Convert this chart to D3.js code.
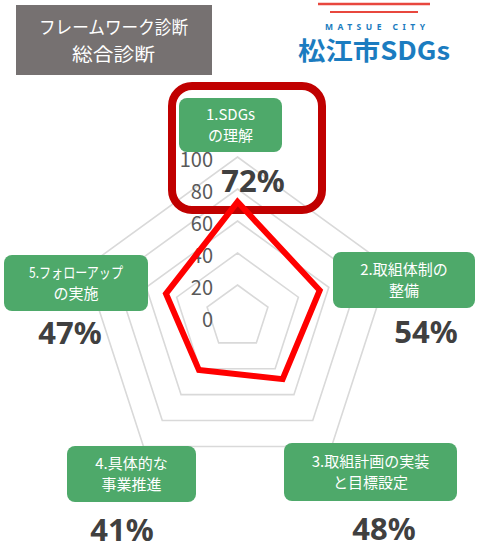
<!DOCTYPE html>
<html><head><meta charset="utf-8">
<script src="https://cdn.jsdelivr.net/npm/d3@7"></script>
<style>body{margin:0;background:#fff}svg{display:block}</style>
</head><body>
<script>
const categories = [["1.SDGs","の理解"],["2.取組体制の","整備"],["3.取組計画の実装","と目標設定"],["4.具体的な","事業推進"],["5.フォローアップ","の実施"]];
const values = [72, 54, 48, 41, 47];
const ticks = [0, 20, 40, 60, 80, 100];
const gridLevels = [20, 40, 60, 80, 100];
const titleLines = ["フレームワーク診断", "総合診断"];

// layout (label boxes and percentage positions)
const boxes = [
  {x:179, y:98, w:103, h:54, px:253, py:192, tl:[null,null]},
  {x:333, y:252, w:142, h:56, px:426, py:343, tl:[null,null]},
  {x:284, y:443, w:173, h:58, px:384, py:540, tl:[null,null]},
  {x:67, y:446, w:129, h:56, px:122, py:541, tl:[null,null]},
  {x:4, y:255, w:144, h:56, px:70, py:344, tl:[94,null]}
];

const W = 481, H = 554, cx = 237.5, cy = 317;
const svg = d3.select("body").append("svg").attr("width", W).attr("height", H);
const JP = "'Noto Sans CJK JP','Noto Sans',sans-serif";

const r = d3.scaleLinear().domain([0, 100]).range([0, 160]);
const ang = d3.scaleLinear().domain([0, categories.length]).range([0, 2 * Math.PI]);
const pt = (v, i) => [cx + r(v) * Math.sin(ang(i)), cy - r(v) * Math.cos(ang(i))];
const line = d3.line().curve(d3.curveLinearClosed);

// grid
svg.append("g").selectAll("path").data(gridLevels).join("path")
  .attr("d", lv => line(categories.map((c, i) => pt(lv, i))))
  .attr("fill", "none").attr("stroke", "#d9d9d9").attr("stroke-width", 1.6);

// tick labels
svg.append("g").selectAll("text").data(ticks).join("text")
  .attr("x", 213).attr("y", t => cy - r(t) + 10)
  .attr("text-anchor", "end").attr("font-family", JP).attr("font-size", 20)
  .attr("fill", "#595959").text(t => t);

// title box
svg.append("rect").attr("x", 16).attr("y", 5).attr("width", 196).attr("height", 70).attr("fill", "#767171");
svg.append("text").attr("x", 39).attr("y", 34).attr("font-family", JP).attr("font-size", 18).attr("fill", "#fff")
  .attr("textLength", 149).attr("lengthAdjust", "spacingAndGlyphs").text(titleLines[0]);
svg.append("text").attr("x", 72).attr("y", 60.5).attr("font-family", JP).attr("font-size", 18).attr("fill", "#fff")
  .attr("textLength", 83).attr("lengthAdjust", "spacingAndGlyphs").text(titleLines[1]);

// logo
svg.append("line").attr("x1", 318).attr("y1", 4).attr("x2", 430).attr("y2", 4).attr("stroke", "#e8473e").attr("stroke-width", 2.5);
svg.append("line").attr("x1", 330).attr("y1", 12).attr("x2", 418).attr("y2", 12).attr("stroke", "#e8473e").attr("stroke-width", 1.8);
svg.append("text").attr("x", 375).attr("y", 30).attr("text-anchor", "middle").attr("font-family", "'Noto Sans',sans-serif")
  .attr("font-weight", "bold").attr("font-size", 8.5).attr("fill", "#1b7cc0")
  .attr("textLength", 100).attr("lengthAdjust", "spacing").text("MATSUE CITY");
svg.append("text").attr("x", 298).attr("y", 60).attr("font-family", JP)
  .attr("font-weight", "bold").attr("font-size", 25).attr("fill", "#1b7cc0")
  .attr("textLength", 152).attr("lengthAdjust", "spacingAndGlyphs").text("松江市SDGs");

// highlight rect
svg.append("rect").attr("x", 172).attr("y", 86).attr("width", 150).attr("height", 124).attr("rx", 20)
  .attr("fill", "none").attr("stroke", "#c00000").attr("stroke-width", 8);

// data polygon
svg.append("path").attr("d", line(values.map((v, i) => pt(v, i))))
  .attr("fill", "none").attr("stroke", "#ff0000").attr("stroke-width", 6).attr("stroke-linejoin", "miter");

// category boxes
const g = svg.append("g").selectAll("g").data(categories).join("g");
g.append("rect").attr("x", (d, i) => boxes[i].x).attr("y", (d, i) => boxes[i].y)
  .attr("width", (d, i) => boxes[i].w).attr("height", (d, i) => boxes[i].h).attr("rx", 8).attr("fill", "#4ea96a");
g.each(function (d, i) {
  const b = boxes[i];
  const t = d3.select(this).append("text").attr("text-anchor", "middle").attr("font-family", JP)
    .attr("font-size", 15).attr("fill", "#fff");
  d.forEach((ln, k) => {
    const s = t.append("tspan").attr("x", b.x + b.w / 2).attr("y", b.y + b.h / 2 - 5 + k * 21).text(ln);
    if (b.tl[k]) s.attr("textLength", b.tl[k]).attr("lengthAdjust", "spacingAndGlyphs");
  });
});

// percentages
svg.append("g").selectAll("text").data(values).join("text")
  .attr("x", (v, i) => boxes[i].px).attr("y", (v, i) => boxes[i].py)
  .attr("text-anchor", "middle").attr("font-family", "'Noto Sans',sans-serif").attr("font-weight", "bold")
  .attr("font-size", 31).attr("fill", "#404040").text(v => v + "%");
</script>
</body></html>
